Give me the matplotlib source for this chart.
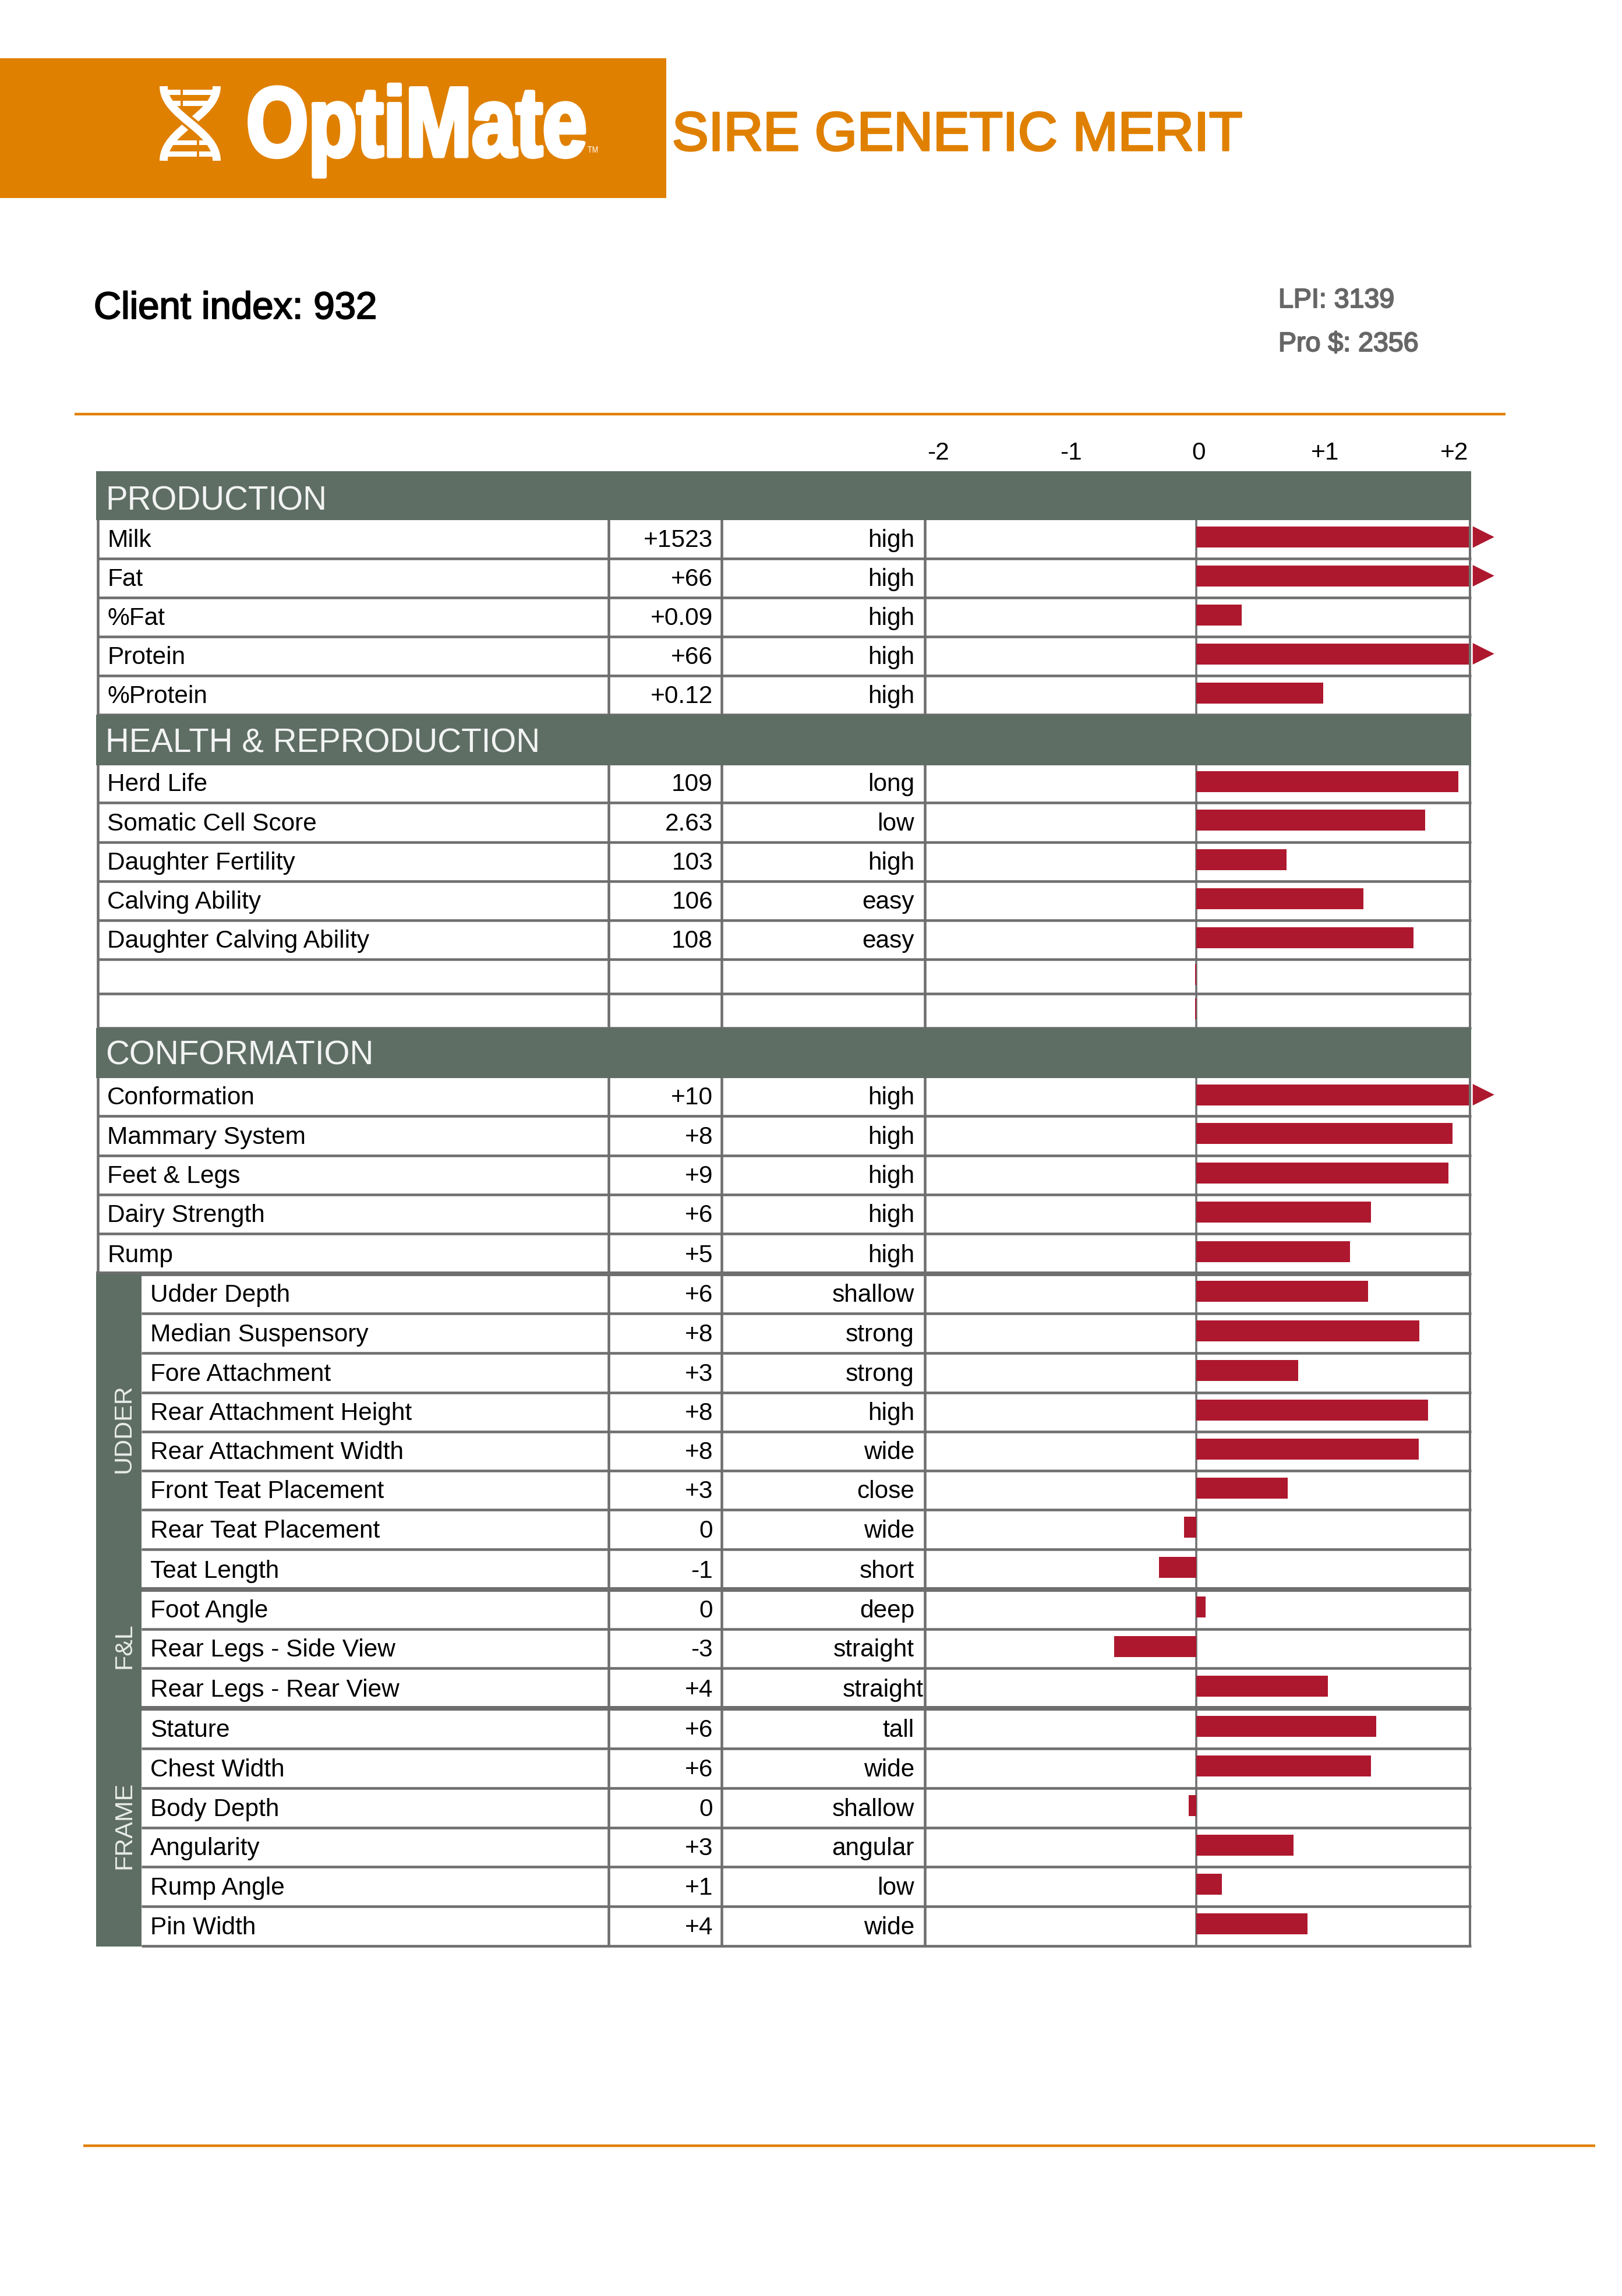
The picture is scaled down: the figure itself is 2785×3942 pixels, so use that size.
import matplotlib
matplotlib.use("Agg")
import matplotlib.pyplot as plt
import matplotlib.patheffects as pe
from matplotlib.patches import Rectangle, Polygon, PathPatch
from matplotlib.path import Path
from matplotlib.transforms import Affine2D, ScaledTranslation

W, H = 2785, 3942
plt.rcParams['font.family'] = ['Liberation Sans', 'DejaVu Sans']

ORANGE = '#E08000'
GREEN = '#5F6E65'
RED = '#AE182E'
LINE = '#6E6E6E'

title = "SIRE GENETIC MERIT"
client = "Client index: 932"
lpi = "LPI: 3139"
pro = "Pro $: 2356"

tick_values = [-2, -1, 0, 1, 2]
tick_labels = ["-2", "-1", "0", "+1", "+2"]

section_names = ["PRODUCTION", "HEALTH & REPRODUCTION", "CONFORMATION"]

prod_names = ["Milk", "Fat", "%Fat", "Protein", "%Protein"]
prod_values = ["+1523", "+66", "+0.09", "+66", "+0.12"]
prod_desc = ["high", "high", "high", "high", "high"]
prod_bars = [2.107, 2.107, 0.35, 2.107, 0.98]

health_names = ["Herd Life", "Somatic Cell Score", "Daughter Fertility", "Calving Ability",
                "Daughter Calving Ability", "", ""]
health_values = ["109", "2.63", "103", "106", "108", "", ""]
health_desc = ["long", "low", "high", "easy", "easy", "", ""]
health_bars = [2.025, 1.772, 0.698, 1.292, 1.678, -0.008, -0.008]

conf_names = ["Conformation", "Mammary System", "Feet & Legs", "Dairy Strength", "Rump"]
conf_values = ["+10", "+8", "+9", "+6", "+5"]
conf_desc = ["high", "high", "high", "high", "high"]
conf_bars = [2.107, 1.98, 1.95, 1.35, 1.19]

udder_names = ["Udder Depth", "Median Suspensory", "Fore Attachment", "Rear Attachment Height",
               "Rear Attachment Width", "Front Teat Placement", "Rear Teat Placement", "Teat Length"]
udder_values = ["+6", "+8", "+3", "+8", "+8", "+3", "0", "-1"]
udder_desc = ["shallow", "strong", "strong", "high", "wide", "close", "wide", "short"]
udder_bars = [1.33, 1.725, 0.79, 1.795, 1.72, 0.705, -0.095, -0.29]

fl_names = ["Foot Angle", "Rear Legs - Side View", "Rear Legs - Rear View"]
fl_values = ["0", "-3", "+4"]
fl_desc = ["deep", "straight", "straight"]
fl_bars = [0.07, -0.635, 1.02]

frame_names = ["Stature", "Chest Width", "Body Depth", "Angularity", "Rump Angle", "Pin Width"]
frame_values = ["+6", "+6", "0", "+3", "+1", "+4"]
frame_desc = ["tall", "wide", "shallow", "angular", "low", "wide"]
frame_bars = [1.39, 1.35, -0.06, 0.75, 0.20, 0.86]

# layout (pixel rows)
head_spans = [(809, 893), (1227, 1314), (1765, 1851)]
head_base = [875, 1291, 1828]
prod_edges = [893, 959, 1026, 1093, 1160, 1227]
health_edges = [1314, 1378, 1446, 1513, 1580, 1647, 1706, 1765]
conf_edges = [1851, 1916, 1984, 2051, 2118, 2187]
udder_edges = [2187, 2255, 2323, 2391, 2458, 2525, 2592, 2660, 2729]
fl_edges = [2729, 2797, 2864, 2933]
frame_edges = [2933, 3002, 3070, 3138, 3205, 3273, 3341]
tick_shift_px = [1, 7, 4, -1, -1]


class Reshape(pe.AbstractPathEffect):
    """Stretch a text's outlines about an anchor point given in display pixels, heavier if asked."""

    def __init__(self, sx, sy, x0, y0, heavy=0):
        super().__init__()
        self.sx, self.sy, self.x0, self.y0, self.heavy = sx, sy, x0, y0, heavy

    def draw_path(self, renderer, gc, tpath, affine, rgbFace):
        tr = affine + Affine2D().translate(-self.x0, -self.y0).scale(self.sx, self.sy).translate(self.x0, self.y0)
        if self.heavy:
            gc0 = renderer.new_gc()
            gc0.copy_properties(gc)
            gc0.set_linewidth(self.heavy)
            gc0.set_foreground(rgbFace)
            renderer.draw_path(gc0, tpath, tr, rgbFace)
            gc0.restore()
        else:
            renderer.draw_path(gc, tpath, tr, rgbFace)


fig = plt.figure(figsize=(W / 100, H / 100), dpi=100, facecolor='white')
bg = fig.add_axes([0, 0, 1, 1])
bg.set_xlim(0, W)
bg.set_ylim(H, 0)
bg.axis('off')

# banner
bg.add_patch(Rectangle((0, 100), 1144, 240, fc=ORANGE, ec='none'))
bg.text(423, 268, "OptiMate", color='white', fontsize=96, fontweight='bold',
        ha='left', va='baseline',
        path_effects=[Reshape(1.025, 1.27, 423, H - 268, heavy=5)])
bg.text(1009, 262, "TM", color='white', fontsize=9, ha='left', va='baseline',
        path_effects=[Reshape(1.0, 1.25, 1009, H - 262)])

# helix emblem
C = [Path.MOVETO, Path.CURVE4, Path.CURVE4, Path.CURVE4]
s2 = Path([(372, 148), (372, 200), (281, 222), (281, 276)], C)
s1 = Path([(281, 148), (281, 200), (372, 222), (372, 276)], C)
bg.add_patch(PathPatch(s2, fc='none', ec='white', lw=10, capstyle='butt'))
bg.add_patch(PathPatch(s1, fc='none', ec=ORANGE, lw=16, capstyle='butt'))
bg.add_patch(PathPatch(s1, fc='none', ec='white', lw=10, capstyle='butt'))
for y0, y1, g0, g1 in [(154, 163, 310, 314), (173, 182, 310, 314),
                       (241, 249, 338, 342), (260, 269, 338, 342)]:
    bg.add_patch(Rectangle((288, y0), g0 - 288, y1 - y0, fc='white', ec='none'))
    bg.add_patch(Rectangle((g1, y0), 366 - g1, y1 - y0, fc='white', ec='none'))

bg.text(1154, 258, title, color=ORANGE, fontsize=67.5, ha='left', va='baseline',
        path_effects=[pe.withStroke(linewidth=2.5, foreground=ORANGE)])
bg.text(161, 547, client, color='black', fontsize=47, ha='left', va='baseline',
        path_effects=[pe.withStroke(linewidth=1.5, foreground='black')])
for txt, yy in [(lpi, 528), (pro, 603)]:
    bg.text(2195, yy, txt, color='#666666', fontsize=33.5, ha='left', va='baseline',
            path_effects=[pe.withStroke(linewidth=1.5, foreground='#666666')])

bg.plot([128, 2585], [711, 711], color=ORANGE, lw=3.2, solid_capstyle='butt')
bg.plot([143, 2739], [3684, 3684], color=ORANGE, lw=3.2, solid_capstyle='butt')


# table frame
def hline(y, x0, lw):
    bg.plot([x0, 2526], [y, y], color=LINE, lw=lw * 0.72, solid_capstyle='butt', zorder=2)


for x, y0, y1, w in [(1045, 809, 3342, 4.5), (1239, 809, 3342, 4.5), (1588, 809, 3342, 4.5),
                     (2054, 809, 3342, 3.5), (2524, 809, 3342, 4), (167.5, 809, 2187, 4.5)]:
    bg.plot([x, x], [y0, y1], color=LINE, lw=w * 0.72, solid_capstyle='butt', zorder=2)

for edges, x0 in [(prod_edges, 167), (health_edges, 167), (conf_edges, 167),
                  (udder_edges, 243), (fl_edges, 243), (frame_edges, 243)]:
    for y in edges[1:]:
        hline(y, x0, 4.5)
hline(2187, 165, 8)
hline(2729, 243, 8)
hline(2933, 243, 8)

bg.add_patch(Rectangle((165, 2187), 78, 3342 - 2187, fc=GREEN, ec='none', zorder=3))
for (y0, y1), yb, nm in zip(head_spans, head_base, section_names):
    bg.add_patch(Rectangle((165, y0), 2526 - 165, y1 - y0, fc=GREEN, ec='none', zorder=3))
    bg.text(181, yb, nm, color='#F2F4F3', fontsize=40.7, ha='left', va='baseline', zorder=4)

for nm, yc in [("UDDER", 2453), ("F&L", 2826), ("FRAME", 3134)]:
    bg.text(213, yc, nm, color='#E8ECEA', fontsize=31, rotation=90, ha='center', va='center', zorder=4)

FS = 30.5
groups = [
    (prod_edges, prod_names, prod_values, prod_desc, prod_bars, 184),
    (health_edges, health_names, health_values, health_desc, health_bars, 184),
    (conf_edges, conf_names, conf_values, conf_desc, conf_bars, 184),
    (udder_edges, udder_names, udder_values, udder_desc, udder_bars, 258),
    (fl_edges, fl_names, fl_values, fl_desc, fl_bars, 258),
    (frame_edges, frame_names, frame_values, frame_desc, frame_bars, 258),
]

# bars on their own scale: 0 at x=2054, 222 px per unit
ZERO, UNIT = 2054, 222
AX_L, AX_R, AX_T, AX_B = 1590, 2580, 809, 3342
ax = fig.add_axes([AX_L / W, 1 - AX_B / H, (AX_R - AX_L) / W, (AX_B - AX_T) / H], zorder=5)
ax.patch.set_alpha(0)
ax.set_xlim((AX_L - ZERO) / UNIT, (AX_R - ZERO) / UNIT)
ax.set_ylim(AX_B, AX_T)
for sp in ax.spines.values():
    sp.set_visible(False)
ax.yaxis.set_visible(False)
ax.xaxis.tick_top()
ax.set_xticks(tick_values)
ax.set_xticklabels(tick_labels, fontsize=FS)
ax.tick_params(axis='x', length=0, pad=8)
for lab, dx in zip(ax.get_xticklabels(), tick_shift_px):
    lab.set_transform(lab.get_transform() + ScaledTranslation(dx / 100, 0, fig.dpi_scale_trans))

for edges, nms, vals, descs, bars, tx in groups:
    for i, (nm, v, d, b) in enumerate(zip(nms, vals, descs, bars)):
        y0, y1 = edges[i], edges[i + 1]
        base = y1 - 20
        bg.text(tx, base, nm, fontsize=FS, ha='left', va='baseline', color='black', zorder=6)
        bg.text(1224, base, v, fontsize=FS, ha='right', va='baseline', color='black', zorder=6)
        dx = 1586 if nm == "Rear Legs - Rear View" else 1570
        bg.text(dx, base, d, fontsize=FS, ha='right', va='baseline', color='black', zorder=6)
        yc = (y0 + y1) / 2 - 4
        ax.barh(yc, b, height=36, color=RED, linewidth=0)
        if b > 2.1:
            ax.add_patch(Polygon([(2.107 + 7 / UNIT, yc - 18.5), (2.107 + 7 / UNIT, yc + 18.5),
                                  (2.107 + 44 / UNIT, yc)], closed=True, fc=RED, ec='none',
                                 clip_on=False))

fig.savefig('out.png', dpi=100, facecolor='white')
